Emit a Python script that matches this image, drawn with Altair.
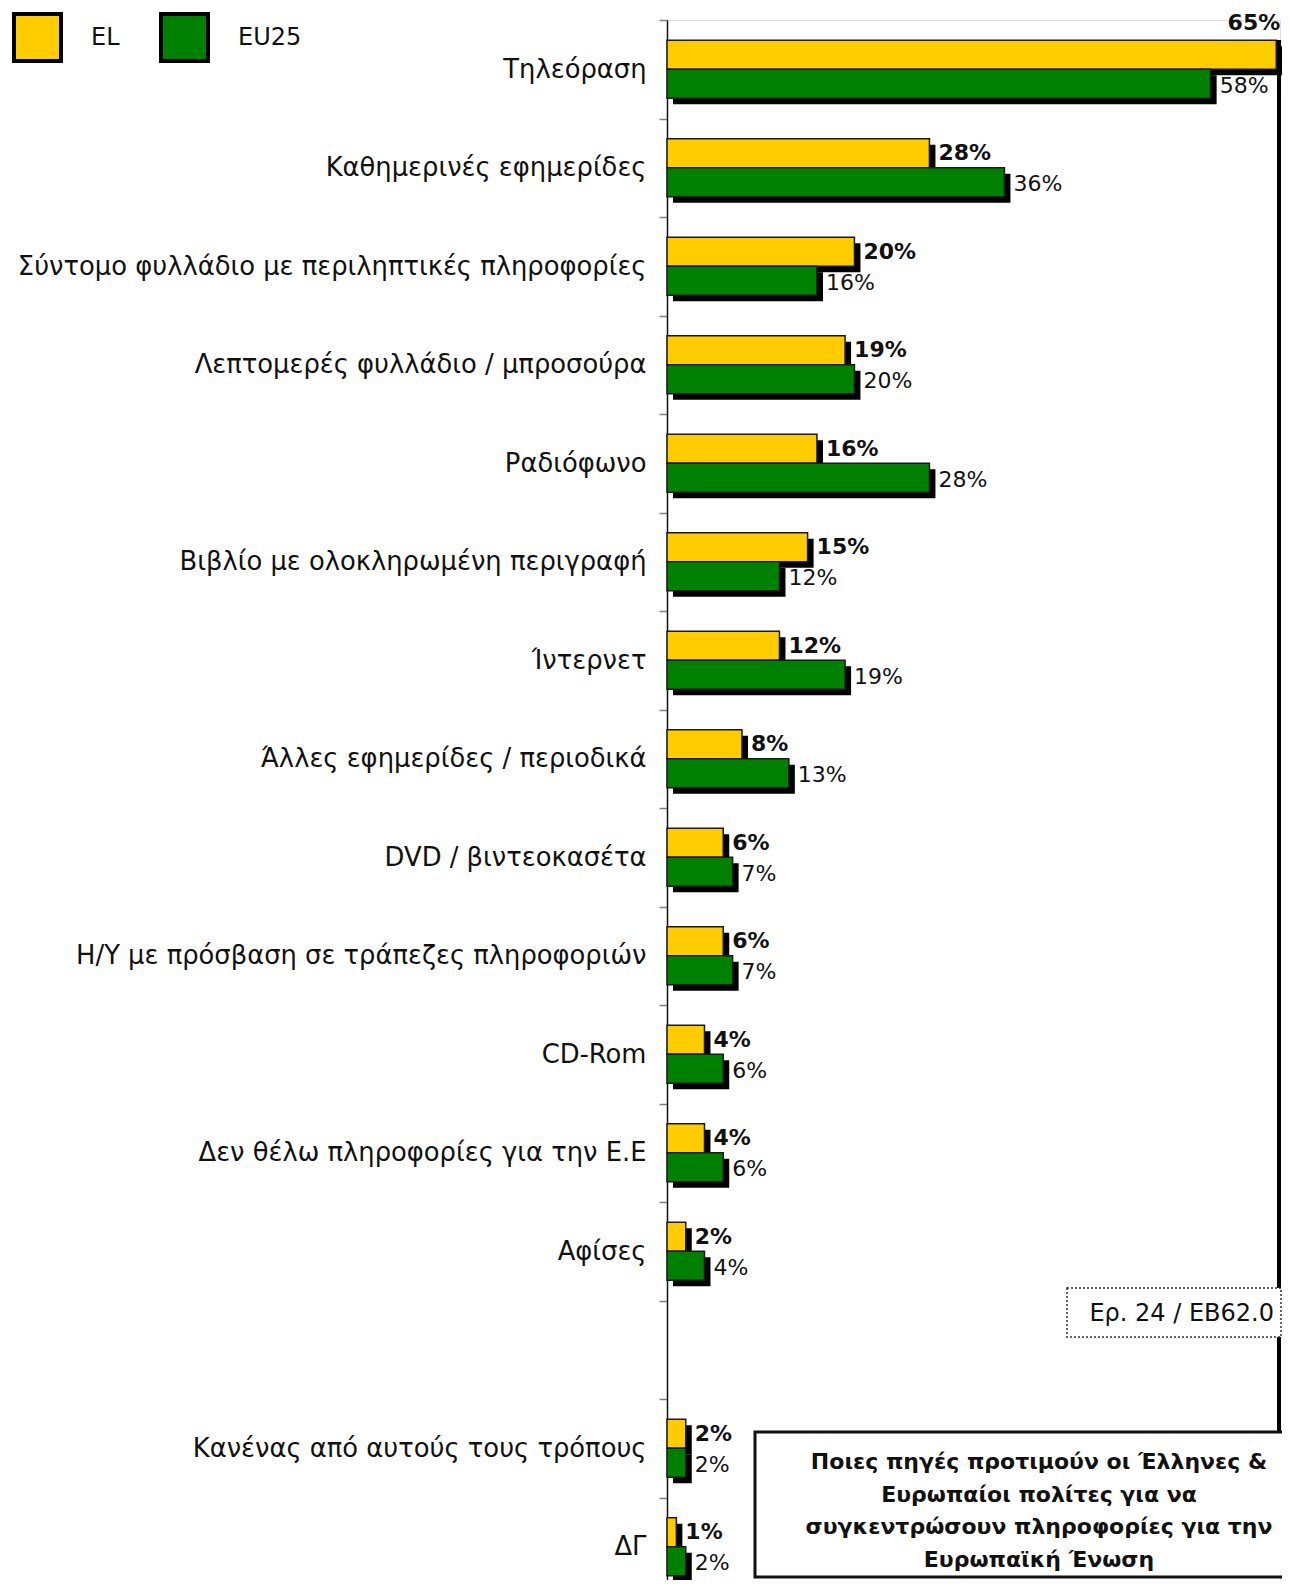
import altair as alt
import pandas as pd

categories = [
    "Τηλεόραση",
    "Καθημερινές εφημερίδες",
    "Σύντομο φυλλάδιο με περιληπτικές πληροφορίες",
    "Λεπτομερές φυλλάδιο / μπροσούρα",
    "Ραδιόφωνο",
    "Βιβλίο με ολοκληρωμένη περιγραφή",
    "Ίντερνετ",
    "Άλλες εφημερίδες / περιοδικά",
    "DVD / βιντεοκασέτα",
    "Η/Υ με πρόσβαση σε τράπεζες πληροφοριών",
    "CD-Rom",
    "Δεν θέλω πληροφορίες για την Ε.Ε",
    "Αφίσες",
    "Κανένας από αυτούς τους τρόπους",
    "ΔΓ",
]
axis_order = categories[:13] + [" "] + categories[13:]
el_values = [65, 28, 20, 19, 16, 15, 12, 8, 6, 6, 4, 4, 2, 2, 1]
eu_values = [58, 36, 16, 20, 28, 12, 19, 13, 7, 7, 6, 6, 4, 2, 2]
series = ["EL", "EU25"]
colors = ["#FFCC00", "#008000"]
title_text = "Ποιες πηγές προτιμούν οι Έλληνες &\nΕυρωπαίοι πολίτες για να\nσυγκεντρώσουν πληροφορίες για την\nΕυρωπαϊκή Ένωση"
source_text = "Ερ. 24 / EB62.0"

rows = []
for c, a, b in zip(categories, el_values, eu_values):
    rows.append({"category": c, "series": "EL", "value": a, "label": f"{a}%"})
    rows.append({"category": c, "series": "EU25", "value": b, "label": f"{b}%"})
df = pd.DataFrame(rows)

FONT = "DejaVu Sans"
BH = 29
HALF = BH / 2
SH = 6
W = 613

y_enc = alt.Y("category:N", sort=axis_order,
              scale=alt.Scale(domain=axis_order, paddingInner=0, paddingOuter=0),
              axis=alt.Axis(title=None, labelFontSize=25.8, labelFont=FONT, labelColor="#111",
                            labelPadding=13, tickBand="extent", tickSize=8,
                            tickColor="#808080", tickWidth=1.5, domainColor="#111",
                            domainWidth=1.5, grid=False, labelLimit=800))
x_enc = alt.X("value:Q", scale=alt.Scale(domain=[0, 65.4], nice=False, zero=True), axis=None)
color_enc = alt.Color("series:N", scale=alt.Scale(domain=series, range=colors),
                      legend=alt.Legend(title=None, orient="none", legendX=-655, legendY=-8,
                                        direction="horizontal", symbolType="square",
                                        symbolSize=2209, symbolStrokeColor="black",
                                        symbolStrokeWidth=4, labelFontSize=24, labelFont=FONT,
                                        labelColor="#111", labelOffset=28, columnPadding=33,
                                        symbolOpacity=1))

base = alt.Chart(df)
el = base.transform_filter(alt.datum.series == "EL")
eu = base.transform_filter(alt.datum.series == "EU25")

sh_el = el.mark_bar(height=BH, yOffset=-HALF + SH, xOffset=SH, color="black").encode(x=x_enc, y=y_enc)
sh_eu = eu.mark_bar(height=BH, yOffset=HALF + SH, xOffset=SH, color="black").encode(x=x_enc, y=y_enc)
bar_el = el.mark_bar(height=BH, yOffset=-HALF, stroke="#1a1a1a", strokeWidth=1.5).encode(
    x=x_enc, y=y_enc, color=color_enc)
bar_eu = eu.mark_bar(height=BH, yOffset=HALF, stroke="#1a1a1a", strokeWidth=1.5).encode(
    x=x_enc, y=y_enc, color=color_enc)

lab_el = el.transform_filter(alt.datum.value < 60).mark_text(
    align="left", baseline="middle", dx=9, dy=-HALF, fontSize=22, fontWeight="bold",
    font=FONT, color="#111").encode(x=x_enc, y=y_enc, text="label:N")
lab_el_top = el.transform_filter(alt.datum.value >= 60).mark_text(
    align="right", baseline="middle", dx=4, dy=-46, fontSize=22, fontWeight="bold",
    font=FONT, color="#111").encode(x=x_enc, y=y_enc, text="label:N")
lab_eu = eu.mark_text(
    align="left", baseline="middle", dx=9, dy=HALF + 2, fontSize=22, fontWeight="normal",
    font=FONT, color="#111").encode(x=x_enc, y=y_enc, text="label:N")

one = alt.Chart(pd.DataFrame({"t": [title_text], "s": [source_text]}))
right_line = one.mark_rule(color="black", strokeWidth=4).encode(
    x=alt.value(W - 1), y=alt.value(20), y2=alt.value(1412))
src_box = one.mark_rect(fill="white", stroke="#333", strokeWidth=1.5, strokeDash=[2, 2]).encode(
    x=alt.value(400), x2=alt.value(W + 1), y=alt.value(1268), y2=alt.value(1317))
src_text = one.mark_text(align="right", baseline="middle", fontSize=24, font=FONT,
                         color="#111").encode(x=alt.value(W - 6), y=alt.value(1294), text="s:N")
title_box = one.mark_rect(fill="white", stroke="#111", strokeWidth=3).encode(
    x=alt.value(88), x2=alt.value(W + 10), y=alt.value(1412), y2=alt.value(1557))
title_mark = one.mark_text(align="center", baseline="middle", fontSize=22, fontWeight="bold",
                           font=FONT, color="#111", lineBreak="\n", lineHeight=32.5).encode(
    x=alt.value(372), y=alt.value(1442), text="t:N")

chart = alt.layer(
    sh_eu, sh_el, bar_el, bar_eu, lab_el, lab_el_top, lab_eu,
    right_line, src_box, src_text, title_box, title_mark
).properties(
    width=W, height=1576,
    autosize=alt.AutoSizeParams(type="none"),
    padding={"left": 659, "top": 12, "right": 2, "bottom": -16},
).configure_view(stroke=None).configure(background="white")

chart.save("out.html", embed_options={"renderer": "svg", "actions": False})
